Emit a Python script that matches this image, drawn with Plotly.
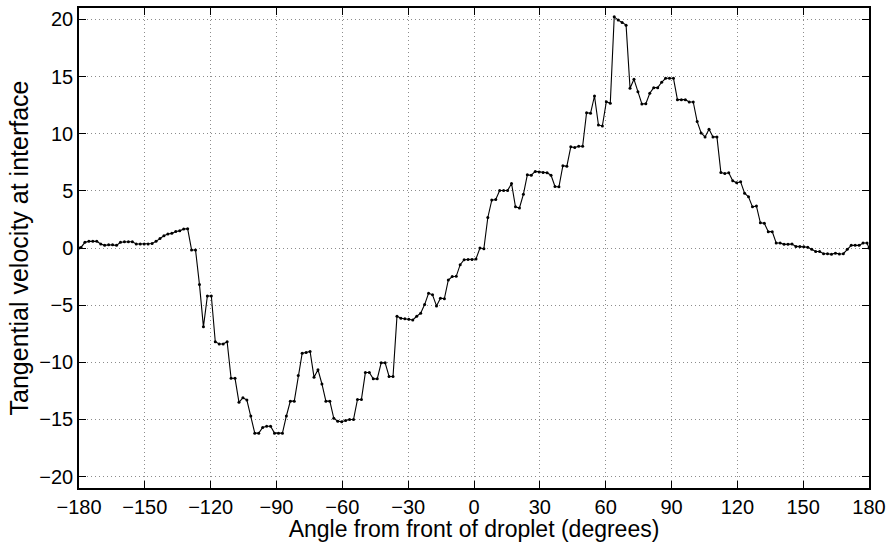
import plotly.graph_objects as go

# Sample angles (degrees) along the droplet interface
angle_deg = [
    -180.0,
    -179.1, -177.3, -175.5, -173.7, -171.9, -170.1, -168.3, -166.5, -164.7, -162.9,
    -161.1, -159.3, -157.5, -155.7, -153.9, -152.1, -150.3, -148.5, -146.7, -144.9,
    -143.1, -141.3, -139.5, -137.7, -135.9, -134.1, -132.3, -130.5, -128.7, -126.9,
    -125.1, -123.3, -121.5, -119.7, -117.9, -116.1, -114.3, -112.5, -110.7, -108.9,
    -107.1, -105.3, -103.5, -101.7, -99.9, -98.1, -96.3, -94.5, -92.7, -90.9,
    -89.1, -87.3, -85.5, -83.7, -81.9, -80.1, -78.3, -76.5, -74.7, -72.9,
    -71.1, -69.3, -67.5, -65.7, -63.9, -62.1, -60.3, -58.5, -56.7, -54.9,
    -53.1, -51.3, -49.5, -47.7, -45.9, -44.1, -42.3, -40.5, -38.7, -36.9,
    -35.1, -33.3, -31.5, -29.7, -27.9, -26.1, -24.3, -22.5, -20.7, -18.9,
    -17.1, -15.3, -13.5, -11.7, -9.9, -8.1, -6.3, -4.5, -2.7, -0.9,
    0.9, 2.7, 4.5, 6.3, 8.1, 9.9, 11.7, 13.5, 15.3, 17.1,
    18.9, 20.7, 22.5, 24.3, 26.1, 27.9, 29.7, 31.5, 33.3, 35.1,
    36.9, 38.7, 40.5, 42.3, 44.1, 45.9, 47.7, 49.5, 51.3, 53.1,
    54.9, 56.7, 58.5, 60.3, 62.1, 63.9, 65.7, 67.5, 69.3, 71.1,
    72.9, 74.7, 76.5, 78.3, 80.1, 81.9, 83.7, 85.5, 87.3, 89.1,
    90.9, 92.7, 94.5, 96.3, 98.1, 99.9, 101.7, 103.5, 105.3, 107.1,
    108.9, 110.7, 112.5, 114.3, 116.1, 117.9, 119.7, 121.5, 123.3, 125.1,
    126.9, 128.7, 130.5, 132.3, 134.1, 135.9, 137.7, 139.5, 141.3, 143.1,
    144.9, 146.7, 148.5, 150.3, 152.1, 153.9, 155.7, 157.5, 159.3, 161.1,
    162.9, 164.7, 166.5, 168.3, 170.1, 171.9, 173.7, 175.5, 177.3, 179.1,
    180.0,
]

# Tangential velocity
tangential_velocity = [
    0.0,
    0.05, 0.5, 0.58, 0.58, 0.58, 0.35, 0.23, 0.28, 0.28, 0.23,
    0.5, 0.55, 0.55, 0.55, 0.35, 0.35, 0.35, 0.35, 0.4, 0.58,
    0.84, 1.07, 1.22, 1.28, 1.45, 1.5, 1.66, 1.69, -0.17, -0.17,
    -3.2, -6.9, -4.2, -4.2, -8.2, -8.4, -8.4, -8.2, -11.4, -11.4,
    -13.5, -13.1, -13.3, -14.7, -16.2, -16.2, -15.7, -15.6, -15.6, -16.2,
    -16.2, -16.2, -14.7, -13.4, -13.4, -11.15, -9.2, -9.15, -9.05, -11.3,
    -10.65, -11.9, -13.4, -13.4, -14.9, -15.15, -15.2, -15.1, -15.0, -15.0,
    -13.25, -13.25, -10.9, -10.9, -11.45, -11.45, -10.05, -10.05, -11.24, -11.24,
    -5.97, -6.15, -6.2, -6.23, -6.3, -5.97, -5.7, -4.95, -3.96, -4.1,
    -5.07, -4.4, -4.43, -2.8, -2.5, -2.48, -1.46, -1.02, -1.0, -1.0,
    -0.96, 0.0, -0.06, 2.67, 4.19, 4.25, 5.03, 5.03, 5.03, 5.65,
    3.6, 3.5, 4.7, 6.4, 6.37, 6.7, 6.64, 6.6, 6.58, 6.37,
    5.38, 5.35, 7.2, 7.15, 8.85, 8.8, 8.9, 8.9, 11.84, 11.79,
    13.3, 10.77, 10.68, 12.8, 12.66, 20.23, 19.94, 19.74, 19.5, 13.97,
    14.76, 13.68, 12.6, 12.63, 13.54, 14.03, 14.03, 14.5, 14.85, 14.85,
    14.85, 12.98, 12.98, 12.98, 12.78, 12.78, 11.06, 10.07, 9.72, 10.39,
    9.72, 9.72, 6.6, 6.52, 6.58, 5.88, 5.7, 5.79, 4.8, 4.48,
    3.6, 3.67, 2.2, 2.17, 1.43, 1.43, 0.44, 0.44, 0.32, 0.32,
    0.35, 0.14, 0.14, 0.1, 0.07, -0.12, -0.3, -0.3, -0.5, -0.5,
    -0.55, -0.45, -0.53, -0.5, -0.12, 0.23, 0.23, 0.23, 0.44, 0.44,
    0.0,
]

x_ticks = [-180, -150, -120, -90, -60, -30, 0, 30, 60, 90, 120, 150, 180]
y_ticks = [-20, -15, -10, -5, 0, 5, 10, 15, 20]

FONT = "Liberation Sans, Arial, Helvetica, sans-serif"

fig = go.Figure(
    go.Scatter(
        x=angle_deg,
        y=tangential_velocity,
        mode="lines+markers",
        line=dict(color="black", width=1.1),
        marker=dict(color="black", size=3),
        hoverinfo="x+y",
    )
)

axis_common = dict(
    showline=True,
    linecolor="black",
    linewidth=1.5,
    mirror="ticks",
    ticks="inside",
    ticklen=7,
    tickwidth=1,
    tickcolor="black",
    showgrid=True,
    gridcolor="#8c8c8c",
    griddash="1px,3px",
    gridwidth=1,
    zeroline=False,
    tickfont=dict(family=FONT, size=20, color="black"),
)

fig.update_layout(
    width=894,
    height=542,
    margin=dict(l=79, r=25, t=6, b=54),
    paper_bgcolor="white",
    plot_bgcolor="white",
    showlegend=False,
    font=dict(family=FONT, color="black"),
    xaxis=dict(
        range=[-180, 180],
        tickvals=x_ticks,
        title=dict(text="Angle from front of droplet (degrees)",
                   font=dict(family=FONT, size=23), standoff=0),
        **axis_common,
    ),
    yaxis=dict(
        range=[-21, 21],
        tickvals=y_ticks,
        title=dict(text="Tangential velocity at interface",
                   font=dict(family=FONT, size=25), standoff=4),
        **axis_common,
    ),
)

fig.write_html("out.html")
